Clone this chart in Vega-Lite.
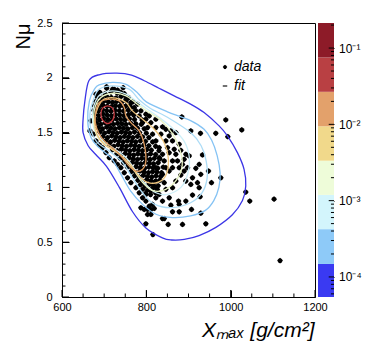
{
"$schema":"https://vega.github.io/schema/vega-lite/v6.json",
"padding":{"left":12,"top":16,"right":0,"bottom":0},
"bounds":"flush",
"spacing":3,
"config":{"font":"Liberation Sans","view":{"stroke":null},"axis":{"zindex":1,"domain":false,"grid":false,"tickColor":"black","tickWidth":1,"labelColor":"black","labelFont":"Liberation Sans","titleColor":"black","titleFont":"Liberation Sans","titleFontWeight":"normal","labelOverlap":false,"labelFlush":false}},
"resolve":{"scale":{"color":"independent"}},
"datasets":{
"pts":[
{"x":706,"y":1.905},{"x":724,"y":1.895},{"x":745,"y":1.91},
{"x":690,"y":1.865},{"x":702,"y":1.855},{"x":716,"y":1.87},{"x":731,"y":1.86},{"x":748,"y":1.855},
{"x":684,"y":1.825},{"x":695,"y":1.815},{"x":706,"y":1.83},{"x":717,"y":1.82},{"x":728,"y":1.815},{"x":740,"y":1.83},{"x":758,"y":1.82},
{"x":680,"y":1.785},{"x":690,"y":1.775},{"x":700,"y":1.79},{"x":710,"y":1.78},{"x":720,"y":1.775},{"x":730,"y":1.785},{"x":741,"y":1.775},{"x":752,"y":1.79},{"x":768,"y":1.78},
{"x":677,"y":1.745},{"x":687,"y":1.735},{"x":697,"y":1.75},{"x":707,"y":1.74},{"x":717,"y":1.735},{"x":727,"y":1.745},{"x":737,"y":1.74},{"x":748,"y":1.735},{"x":760,"y":1.745},
{"x":676,"y":1.705},{"x":686,"y":1.695},{"x":696,"y":1.71},{"x":706,"y":1.7},{"x":716,"y":1.695},{"x":726,"y":1.705},{"x":736,"y":1.7},{"x":746,"y":1.695},{"x":757,"y":1.705},{"x":775,"y":1.7},
{"x":677,"y":1.665},{"x":687,"y":1.655},{"x":697,"y":1.67},{"x":707,"y":1.66},{"x":717,"y":1.655},{"x":727,"y":1.665},{"x":737,"y":1.66},{"x":747,"y":1.655},{"x":758,"y":1.665},{"x":770,"y":1.66},
{"x":679,"y":1.625},{"x":689,"y":1.615},{"x":699,"y":1.63},{"x":709,"y":1.62},{"x":719,"y":1.615},{"x":729,"y":1.625},{"x":739,"y":1.62},{"x":749,"y":1.615},{"x":760,"y":1.625},{"x":772,"y":1.62},{"x":790,"y":1.615},
{"x":682,"y":1.585},{"x":692,"y":1.575},{"x":702,"y":1.59},{"x":712,"y":1.58},{"x":722,"y":1.575},{"x":732,"y":1.585},{"x":742,"y":1.58},{"x":752,"y":1.575},{"x":763,"y":1.585},{"x":775,"y":1.58},{"x":788,"y":1.575},
{"x":686,"y":1.545},{"x":696,"y":1.535},{"x":706,"y":1.55},{"x":716,"y":1.54},{"x":726,"y":1.535},{"x":736,"y":1.545},{"x":746,"y":1.54},{"x":756,"y":1.535},{"x":767,"y":1.545},{"x":779,"y":1.54},{"x":795,"y":1.535},
{"x":690,"y":1.505},{"x":701,"y":1.495},{"x":711,"y":1.51},{"x":721,"y":1.5},{"x":731,"y":1.495},{"x":741,"y":1.505},{"x":751,"y":1.5},{"x":761,"y":1.495},{"x":772,"y":1.505},{"x":784,"y":1.5},{"x":800,"y":1.495},
{"x":697,"y":1.465},{"x":708,"y":1.455},{"x":718,"y":1.47},{"x":728,"y":1.46},{"x":738,"y":1.455},{"x":748,"y":1.465},{"x":758,"y":1.46},{"x":768,"y":1.455},{"x":779,"y":1.465},{"x":791,"y":1.46},{"x":806,"y":1.455},
{"x":704,"y":1.425},{"x":715,"y":1.415},{"x":725,"y":1.43},{"x":735,"y":1.42},{"x":745,"y":1.415},{"x":755,"y":1.425},{"x":765,"y":1.42},{"x":775,"y":1.415},{"x":786,"y":1.425},{"x":798,"y":1.42},{"x":815,"y":1.415},
{"x":712,"y":1.385},{"x":723,"y":1.375},{"x":733,"y":1.39},{"x":743,"y":1.38},{"x":753,"y":1.375},{"x":763,"y":1.385},{"x":773,"y":1.38},{"x":783,"y":1.375},{"x":794,"y":1.385},{"x":806,"y":1.38},{"x":822,"y":1.375},
{"x":720,"y":1.345},{"x":731,"y":1.335},{"x":741,"y":1.35},{"x":751,"y":1.34},{"x":761,"y":1.335},{"x":771,"y":1.345},{"x":781,"y":1.34},{"x":791,"y":1.335},{"x":801,"y":1.345},{"x":812,"y":1.34},{"x":830,"y":1.335},
{"x":730,"y":1.305},{"x":740,"y":1.295},{"x":750,"y":1.31},{"x":760,"y":1.3},{"x":770,"y":1.295},{"x":780,"y":1.305},{"x":790,"y":1.3},{"x":800,"y":1.295},{"x":810,"y":1.305},{"x":822,"y":1.3},
{"x":738,"y":1.265},{"x":749,"y":1.255},{"x":759,"y":1.27},{"x":769,"y":1.26},{"x":779,"y":1.255},{"x":789,"y":1.265},{"x":799,"y":1.26},{"x":809,"y":1.255},{"x":819,"y":1.265},{"x":832,"y":1.26},
{"x":746,"y":1.225},{"x":757,"y":1.215},{"x":767,"y":1.23},{"x":777,"y":1.22},{"x":787,"y":1.215},{"x":797,"y":1.225},{"x":807,"y":1.22},{"x":817,"y":1.215},{"x":828,"y":1.225},
{"x":755,"y":1.185},{"x":766,"y":1.175},{"x":776,"y":1.19},{"x":786,"y":1.18},{"x":796,"y":1.175},{"x":806,"y":1.185},{"x":816,"y":1.18},{"x":827,"y":1.175},{"x":840,"y":1.185},
{"x":764,"y":1.145},{"x":775,"y":1.135},{"x":785,"y":1.15},{"x":795,"y":1.14},{"x":805,"y":1.135},{"x":815,"y":1.145},{"x":825,"y":1.14},{"x":836,"y":1.135},
{"x":772,"y":1.105},{"x":783,"y":1.095},{"x":793,"y":1.11},{"x":803,"y":1.1},{"x":813,"y":1.095},{"x":823,"y":1.105},{"x":834,"y":1.1},
{"x":780,"y":1.065},{"x":791,"y":1.055},{"x":801,"y":1.07},{"x":811,"y":1.06},{"x":821,"y":1.055},{"x":832,"y":1.065},
{"x":786,"y":1.025},{"x":797,"y":1.015},{"x":807,"y":1.03},{"x":817,"y":1.02},{"x":828,"y":1.015},
{"x":792,"y":0.985},{"x":803,"y":0.975},{"x":814,"y":0.99},{"x":826,"y":0.98},
{"x":798,"y":0.945},{"x":810,"y":0.935},{"x":822,"y":0.95},
{"x":884.2,"y":1.643},{"x":988.4,"y":1.616},{"x":1026.3,"y":1.524},{"x":928.4,"y":1.494},{"x":964.7,"y":1.494},{"x":993.2,"y":1.463},{"x":905.5,"y":1.515},{"x":933.2,"y":1.296},{"x":947.4,"y":1.149},{"x":976.6,"y":1.088},{"x":954.5,"y":1.043},{"x":1035.8,"y":0.957},{"x":1045.3,"y":0.875},{"x":1102.9,"y":0.893},{"x":1117.1,"y":0.332},{"x":927.6,"y":0.915},{"x":907.1,"y":0.799},{"x":929.2,"y":0.765},{"x":941.1,"y":0.668},{"x":885.8,"y":0.662},{"x":851.8,"y":0.662},{"x":838.4,"y":0.716},{"x":815.5,"y":0.57},{"x":798.9,"y":0.668},{"x":858.2,"y":0.838},{"x":877.9,"y":0.777},{"x":909.5,"y":0.93},{"x":925.3,"y":0.997},{"x":905.5,"y":1.027},{"x":921.3,"y":1.043},{"x":929.2,"y":1.119},{"x":925.3,"y":1.21},{"x":917.4,"y":1.174},{"x":893.7,"y":1.302},{"x":889.7,"y":1.256},{"x":901.6,"y":1.287},{"x":881.8,"y":1.338},{"x":877.9,"y":1.393},{"x":862.1,"y":1.424},{"x":870,"y":1.5},{"x":858.2,"y":1.515},{"x":846.3,"y":1.53},{"x":838.4,"y":1.552},{"x":822.6,"y":1.622},{"x":806.8,"y":1.652},{"x":798.9,"y":1.668},{"x":787.1,"y":1.698},{"x":771.3,"y":1.729},{"x":779.2,"y":1.759},{"x":763.4,"y":1.774},{"x":751.6,"y":1.805},{"x":747.6,"y":1.842},{"x":739.7,"y":1.866},{"x":731.8,"y":1.887},{"x":720,"y":1.896},{"x":705.8,"y":1.918},{"x":688.4,"y":1.866},{"x":850.3,"y":1.363},{"x":870,"y":1.302},{"x":862.1,"y":1.241},{"x":877.9,"y":1.18},{"x":889.7,"y":1.149},{"x":881.8,"y":1.113},{"x":909.5,"y":1.088},{"x":893.7,"y":1.058},{"x":870,"y":1.058},{"x":862.1,"y":0.997},{"x":846.3,"y":0.982},{"x":830.5,"y":0.936},{"x":822.6,"y":0.905},{"x":838.4,"y":0.875},{"x":854.2,"y":0.905},{"x":877.9,"y":0.845},{"x":893.7,"y":0.875},{"x":814.7,"y":0.845},{"x":802.9,"y":0.799},{"x":818.7,"y":0.808},{"x":810.8,"y":0.753},{"x":842.4,"y":0.716},{"x":862.1,"y":0.777},{"x":876.3,"y":0.875},
{"x":675,"y":1.485},{"x":680.5,"y":1.424},{"x":688.4,"y":1.387},{"x":696.3,"y":1.363},{"x":704.2,"y":1.317},{"x":712.1,"y":1.271},{"x":723.9,"y":1.241},{"x":731.8,"y":1.21},{"x":739.7,"y":1.18},{"x":747.6,"y":1.134},{"x":755.5,"y":1.088},{"x":763.4,"y":1.043},{"x":775.3,"y":0.997},{"x":783.2,"y":0.951},{"x":791.1,"y":0.905},{"x":798.9,"y":0.875},{"x":806.8,"y":0.829},{"x":787.1,"y":0.814},{"x":795,"y":0.799},{"x":810.8,"y":0.799},{"x":802.9,"y":0.753},{"x":668.7,"y":1.607},{"x":666.3,"y":1.515},{"x":676.6,"y":1.698},{"x":680.5,"y":1.851},
{"x":814.7,"y":1.485},{"x":822.6,"y":1.424},{"x":830.5,"y":1.363},{"x":838.4,"y":1.302},{"x":842.4,"y":1.241},{"x":846.3,"y":1.18},{"x":838.4,"y":1.119},{"x":822.6,"y":1.058},{"x":806.8,"y":1.027},{"x":810.8,"y":0.966},{"x":798.9,"y":0.936},{"x":834.5,"y":1.485},{"x":802.9,"y":1.546},{"x":791.1,"y":1.591},{"x":830.5,"y":1.271},{"x":854.2,"y":1.317},{"x":822.6,"y":1.18},{"x":854.2,"y":1.149},{"x":842.4,"y":1.043},{"x":822.6,"y":0.997},{"x":862.1,"y":1.18},{"x":874,"y":1.241},{"x":885.8,"y":1.21},{"x":897.6,"y":1.18},{"x":866.1,"y":1.348},{"x":846.3,"y":1.424},{"x":854.2,"y":1.47},{"x":822.6,"y":1.546},{"x":810.8,"y":1.591},{"x":798.9,"y":1.622},{"x":783.2,"y":1.652},{"x":767.4,"y":1.683},{"x":763.4,"y":1.729},{"x":751.6,"y":1.744}
],
"cnt":[
{"c":1,"o":1,"x":664,"y":1.975},{"c":1,"o":2,"x":690,"y":2.03},{"c":1,"o":3,"x":730,"y":2.042},{"c":1,"o":4,"x":765,"y":2.025},{"c":1,"o":5,"x":795,"y":1.973},{"c":1,"o":6,"x":830,"y":1.905},{"c":1,"o":7,"x":866,"y":1.835},{"c":1,"o":8,"x":905,"y":1.76},{"c":1,"o":9,"x":937,"y":1.683},{"c":1,"o":10,"x":972.6,"y":1.561},{"c":1,"o":11,"x":992.4,"y":1.47},{"c":1,"o":12,"x":1016,"y":1.317},{"c":1,"o":13,"x":1031.8,"y":1.165},{"c":1,"o":14,"x":1035.8,"y":1.012},{"c":1,"o":15,"x":1028,"y":0.88},{"c":1,"o":16,"x":1004,"y":0.75},{"c":1,"o":17,"x":965,"y":0.635},{"c":1,"o":18,"x":925,"y":0.56},{"c":1,"o":19,"x":890,"y":0.525},{"c":1,"o":20,"x":860,"y":0.52},{"c":1,"o":21,"x":838,"y":0.54},{"c":1,"o":22,"x":799,"y":0.63},{"c":1,"o":23,"x":767,"y":0.78},{"c":1,"o":24,"x":736,"y":1.0},{"c":1,"o":25,"x":706,"y":1.19},{"c":1,"o":26,"x":680,"y":1.3},{"c":1,"o":27,"x":662,"y":1.38},{"c":1,"o":28,"x":650,"y":1.5},{"c":1,"o":29,"x":650,"y":1.62},{"c":1,"o":30,"x":654,"y":1.78},
{"c":2,"o":1,"x":688,"y":1.935},{"c":2,"o":2,"x":720,"y":1.958},{"c":2,"o":3,"x":752,"y":1.94},{"c":2,"o":4,"x":780,"y":1.86},{"c":2,"o":5,"x":800,"y":1.78},{"c":2,"o":6,"x":850,"y":1.69},{"c":2,"o":7,"x":905,"y":1.61},{"c":2,"o":8,"x":937,"y":1.53},{"c":2,"o":9,"x":955,"y":1.43},{"c":2,"o":10,"x":968,"y":1.29},{"c":2,"o":11,"x":975,"y":1.13},{"c":2,"o":12,"x":972,"y":1.0},{"c":2,"o":13,"x":960,"y":0.88},{"c":2,"o":14,"x":940,"y":0.79},{"c":2,"o":15,"x":905,"y":0.74},{"c":2,"o":16,"x":862,"y":0.725},{"c":2,"o":17,"x":823,"y":0.755},{"c":2,"o":18,"x":791,"y":0.845},{"c":2,"o":19,"x":763,"y":0.966},{"c":2,"o":20,"x":740,"y":1.119},{"c":2,"o":21,"x":716,"y":1.271},{"c":2,"o":22,"x":688,"y":1.363},{"c":2,"o":23,"x":669,"y":1.454},{"c":2,"o":24,"x":661,"y":1.607},{"c":2,"o":25,"x":665,"y":1.79},{"c":2,"o":26,"x":677,"y":1.896},
{"c":3,"o":1,"x":688,"y":1.896},{"c":3,"o":2,"x":720,"y":1.927},{"c":3,"o":3,"x":759,"y":1.896},{"c":3,"o":4,"x":783,"y":1.8},{"c":3,"o":5,"x":810,"y":1.72},{"c":3,"o":6,"x":850,"y":1.64},{"c":3,"o":7,"x":905,"y":1.5},{"c":3,"o":8,"x":930,"y":1.38},{"c":3,"o":9,"x":942,"y":1.24},{"c":3,"o":10,"x":944,"y":1.08},{"c":3,"o":11,"x":932,"y":0.95},{"c":3,"o":12,"x":905,"y":0.86},{"c":3,"o":13,"x":860,"y":0.815},{"c":3,"o":14,"x":818,"y":0.85},{"c":3,"o":15,"x":791,"y":0.951},{"c":3,"o":16,"x":767,"y":1.088},{"c":3,"o":17,"x":744,"y":1.226},{"c":3,"o":18,"x":712,"y":1.332},{"c":3,"o":19,"x":684,"y":1.409},{"c":3,"o":20,"x":669,"y":1.515},{"c":3,"o":21,"x":666,"y":1.668},{"c":3,"o":22,"x":675,"y":1.805},
{"c":4,"o":1,"x":692,"y":1.851},{"c":4,"o":2,"x":720,"y":1.881},{"c":4,"o":3,"x":752,"y":1.851},{"c":4,"o":4,"x":775,"y":1.79},{"c":4,"o":5,"x":800,"y":1.72},{"c":4,"o":6,"x":830,"y":1.64},{"c":4,"o":7,"x":862,"y":1.54},{"c":4,"o":8,"x":890,"y":1.42},{"c":4,"o":9,"x":902,"y":1.27},{"c":4,"o":10,"x":898,"y":1.12},{"c":4,"o":11,"x":882,"y":1.0},{"c":4,"o":12,"x":850,"y":0.936},{"c":4,"o":13,"x":823,"y":0.951},{"c":4,"o":14,"x":799,"y":1.027},{"c":4,"o":15,"x":775,"y":1.149},{"c":4,"o":16,"x":752,"y":1.271},{"c":4,"o":17,"x":720,"y":1.363},{"c":4,"o":18,"x":692,"y":1.439},{"c":4,"o":19,"x":675,"y":1.546},{"c":4,"o":20,"x":673,"y":1.698},{"c":4,"o":21,"x":680,"y":1.79},
{"c":5,"o":1,"x":698,"y":1.835},{"c":5,"o":2,"x":725,"y":1.86},{"c":5,"o":3,"x":752,"y":1.835},{"c":5,"o":4,"x":775,"y":1.77},{"c":5,"o":5,"x":800,"y":1.7},{"c":5,"o":6,"x":835,"y":1.61},{"c":5,"o":7,"x":862,"y":1.49},{"c":5,"o":8,"x":880,"y":1.34},{"c":5,"o":9,"x":885,"y":1.2},{"c":5,"o":10,"x":872,"y":1.07},{"c":5,"o":11,"x":845,"y":0.98},{"c":5,"o":12,"x":815,"y":0.97},{"c":5,"o":13,"x":790,"y":1.05},{"c":5,"o":14,"x":768,"y":1.17},{"c":5,"o":15,"x":740,"y":1.29},{"c":5,"o":16,"x":706,"y":1.38},{"c":5,"o":17,"x":683,"y":1.47},{"c":5,"o":18,"x":675,"y":1.62},{"c":5,"o":19,"x":681,"y":1.76},
{"c":6,"o":1,"x":700,"y":1.805},{"c":6,"o":2,"x":728,"y":1.815},{"c":6,"o":3,"x":752,"y":1.774},{"c":6,"o":4,"x":767,"y":1.698},{"c":6,"o":5,"x":791,"y":1.622},{"c":6,"o":6,"x":819,"y":1.53},{"c":6,"o":7,"x":842,"y":1.409},{"c":6,"o":8,"x":852,"y":1.271},{"c":6,"o":9,"x":848,"y":1.125},{"c":6,"o":10,"x":830,"y":1.05},{"c":6,"o":11,"x":803,"y":1.045},{"c":6,"o":12,"x":779,"y":1.119},{"c":6,"o":13,"x":759,"y":1.226},{"c":6,"o":14,"x":732,"y":1.317},{"c":6,"o":15,"x":700,"y":1.393},{"c":6,"o":16,"x":683,"y":1.485},{"c":6,"o":17,"x":677,"y":1.607},{"c":6,"o":18,"x":685,"y":1.729},
{"c":7,"o":1,"x":688.4,"y":1.774},{"c":7,"o":2,"x":712.1,"y":1.805},{"c":7,"o":3,"x":735.8,"y":1.79},{"c":7,"o":4,"x":747.6,"y":1.729},{"c":7,"o":5,"x":751.6,"y":1.652},{"c":7,"o":6,"x":763.4,"y":1.591},{"c":7,"o":7,"x":783.2,"y":1.515},{"c":7,"o":8,"x":795,"y":1.393},{"c":7,"o":9,"x":798.9,"y":1.241},{"c":7,"o":10,"x":791.1,"y":1.165},{"c":7,"o":11,"x":775.3,"y":1.149},{"c":7,"o":12,"x":759.5,"y":1.195},{"c":7,"o":13,"x":743.7,"y":1.271},{"c":7,"o":14,"x":723.9,"y":1.348},{"c":7,"o":15,"x":704.2,"y":1.409},{"c":7,"o":16,"x":688.4,"y":1.485},{"c":7,"o":17,"x":679,"y":1.591},{"c":7,"o":18,"x":680.5,"y":1.698},
{"c":8,"o":1,"x":692.4,"y":1.668},{"c":8,"o":2,"x":696.3,"y":1.723},{"c":8,"o":3,"x":708.2,"y":1.744},{"c":8,"o":4,"x":720,"y":1.723},{"c":8,"o":5,"x":723.9,"y":1.668},{"c":8,"o":6,"x":720,"y":1.613},{"c":8,"o":7,"x":708.2,"y":1.582},{"c":8,"o":8,"x":696.3,"y":1.613}
],
"bands":[{"b":1,"lo":0.0000546,"hi":0.000148},{"b":2,"lo":0.000148,"hi":0.000423},{"b":3,"lo":0.000423,"hi":0.00119},{"b":4,"lo":0.00119,"hi":0.00334},{"b":5,"lo":0.00334,"hi":0.00944},{"b":6,"lo":0.00944,"hi":0.0267},{"b":7,"lo":0.0267,"hi":0.0753},{"b":8,"lo":0.0753,"hi":0.213}],
"xmaj":[{"v":600},{"v":800},{"v":1000},{"v":1200}],
"xmin":[{"v":650},{"v":700},{"v":750},{"v":850},{"v":900},{"v":950},{"v":1050},{"v":1100},{"v":1150}],
"ymaj":[{"v":0},{"v":0.5},{"v":1},{"v":1.5},{"v":2},{"v":2.5}],
"ymin":[{"v":0.1},{"v":0.2},{"v":0.3},{"v":0.4},{"v":0.6},{"v":0.7},{"v":0.8},{"v":0.9},{"v":1.1},{"v":1.2},{"v":1.3},{"v":1.4},{"v":1.6},{"v":1.7},{"v":1.8},{"v":1.9},{"v":2.1},{"v":2.2},{"v":2.3},{"v":2.4}],
"cmaj":[{"v":0.0001},{"v":0.001},{"v":0.01},{"v":0.1}],
"cmin":[{"v":0.00006},{"v":0.00007},{"v":0.00008},{"v":0.00009},{"v":0.0002},{"v":0.0003},{"v":0.0004},{"v":0.0005},{"v":0.0006},{"v":0.0007},{"v":0.0008},{"v":0.0009},{"v":0.002},{"v":0.003},{"v":0.004},{"v":0.005},{"v":0.006},{"v":0.007},{"v":0.008},{"v":0.009},{"v":0.02},{"v":0.03},{"v":0.04},{"v":0.05},{"v":0.06},{"v":0.07},{"v":0.08},{"v":0.09},{"v":0.2}]
},
"hconcat":[
{
"width":253,"height":274,
"view":{"stroke":"black","strokeWidth":1},
"resolve":{"axis":{"x":"independent","y":"independent"}},
"layer":[
{"data":{"name":"pts"},
"mark":{"type":"point","filled":true,"color":"black","opacity":1,"size":33},
"encoding":{
"x":{"field":"x","type":"quantitative","scale":{"domain":[600,1200],"nice":false,"zero":false},
 "axis":{"orient":"bottom","offset":-7,"values":[600,800,1000,1200],"format":"d","tickSize":7,"labelPadding":4,"labelFontSize":11,"title":"Xₘₐₓ [g/cm²]","titleFontSize":21,"titleFontStyle":"italic","titleAlign":"right","titleX":252,"titleY":46,"titleBaseline":"alphabetic"}},
"y":{"field":"y","type":"quantitative","scale":{"domain":[0,2.5],"nice":false,"zero":false},
 "axis":{"orient":"left","offset":-7,"values":[0,0.5,1,1.5,2,2.5],"format":"~g","tickSize":7,"labelPadding":10,"labelFontSize":11,"title":"Nμ","titleFontSize":20,"titleAngle":-90,"titleAlign":"right","titleBaseline":"alphabetic","titleX":-40,"titleY":0}},
"shape":{"datum":"data","type":"nominal","scale":{"domain":["data","fit"],"range":["M0,-1L0.6,-0.6L1,0L0.6,0.6L0,1L-0.6,0.6L-1,0L-0.6,-0.6Z","M-1,-0.25H1V0.25H-1Z"]},
 "legend":{"title":null,"orient":"none","legendX":156,"legendY":37,"symbolSize":20,"labelFontSize":14,"labelFontStyle":"italic","labelFont":"Liberation Sans","labelColor":"black","labelOffset":2,"rowPadding":5,"padding":0,"symbolFillColor":"black","symbolStrokeColor":"black","symbolStrokeWidth":0,
  "encode":{"symbols":{"update":{"fill":{"value":"black"},"stroke":{"value":"black"},"strokeWidth":{"value":0.8}}}}}}
}},
{"data":{"name":"cnt"},
"mark":{"type":"line","interpolate":"cardinal-closed","strokeWidth":1.3},
"encoding":{
"x":{"field":"x","type":"quantitative","axis":null},
"y":{"field":"y","type":"quantitative","axis":null},
"order":{"field":"o","type":"quantitative"},
"color":{"field":"c","type":"ordinal","scale":{"domain":[1,2,3,4,5,6,7,8],"range":["#3b35e6","#85c3f4","#acdcf6","#cdeff8","#e8f4c4","#efc67e","#de9a5e","#c63a3f"]},"legend":null}
}},
{"data":{"name":"xmaj"},"mark":{"type":"rule","color":"black","strokeWidth":1},
"encoding":{"x":{"field":"v","type":"quantitative","axis":null},"y":{"datum":0,"type":"quantitative","axis":null},"y2":{"datum":0.064}}},
{"data":{"name":"xmin"},"mark":{"type":"rule","color":"black","strokeWidth":1},
"encoding":{"x":{"field":"v","type":"quantitative","axis":null},"y":{"datum":0,"type":"quantitative","axis":null},"y2":{"datum":0.032}}},
{"data":{"name":"ymaj"},"mark":{"type":"rule","color":"black","strokeWidth":1},
"encoding":{"y":{"field":"v","type":"quantitative","axis":null},"x":{"datum":600,"type":"quantitative","axis":null},"x2":{"datum":616.6}}},
{"data":{"name":"ymin"},"mark":{"type":"rule","color":"black","strokeWidth":1},
"encoding":{"y":{"field":"v","type":"quantitative","axis":null},"x":{"datum":600,"type":"quantitative","axis":null},"x2":{"datum":608.3}}}
]
},
{
"width":16,"height":274,
"resolve":{"axis":{"y":"independent"}},
"layer":[
{"data":{"name":"bands"},"mark":{"type":"rect"},
"encoding":{
"x":{"datum":0,"type":"quantitative","scale":{"domain":[0,1],"nice":false},"axis":null},
"x2":{"datum":1},
"y":{"field":"lo","type":"quantitative","scale":{"type":"log","domain":[0.0000546,0.213],"nice":false},
 "axis":{"orient":"right","offset":-5.3,"title":null,"values":[0.0001,0.001,0.01,0.1],
 "labelExpr":"'10' + ['⁻⁴','⁻³','⁻²','⁻¹'][round(log(datum.value)/LN10)+4]",
 "tickSize":5.3,"labelPadding":4.6,"labelFontSize":12,"labelAlign":"left","labelBaseline":"middle"}},
"y2":{"field":"hi"},
"color":{"field":"b","type":"ordinal","scale":{"domain":[1,2,3,4,5,6,7,8],"range":["#3a3af2","#8ecaf8","#d3f5fc","#eefcd9","#f1d98b","#e3a16b","#b94043","#8d1b28"]},"legend":null}
}},
{"data":{"name":"cmaj"},"mark":{"type":"rule","color":"black","strokeWidth":1},
"encoding":{"y":{"field":"v","type":"quantitative","axis":null},"x":{"datum":0.67,"type":"quantitative","axis":null},"x2":{"datum":1}}},
{"data":{"name":"cmin"},"mark":{"type":"rule","color":"black","strokeWidth":1},
"encoding":{"y":{"field":"v","type":"quantitative","axis":null},"x":{"datum":0.81,"type":"quantitative","axis":null},"x2":{"datum":1}}}
]
}
]
}
